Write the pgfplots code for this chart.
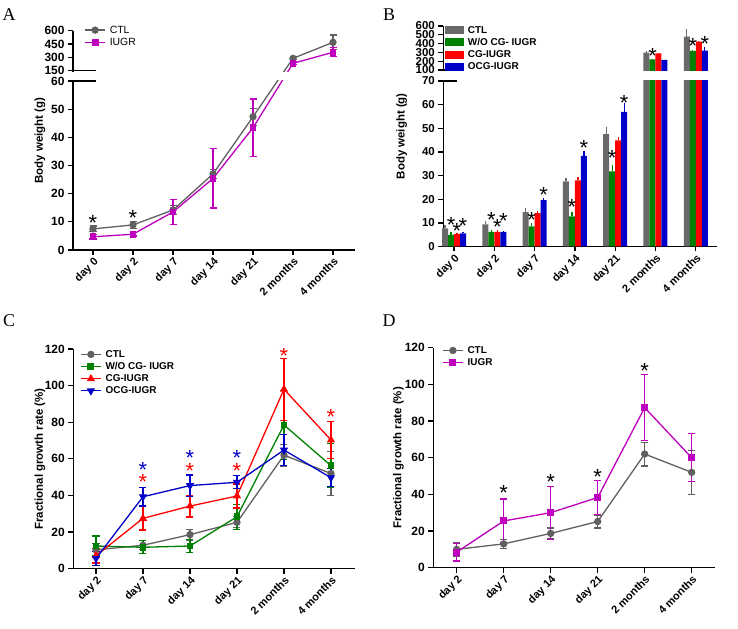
\documentclass[border=0pt]{standalone}
\usepackage{fontspec}
\setmainfont{Liberation Sans}
\newfontfamily\panelfont{Liberation Serif}
\usepackage{pgfplots}
\usepackage{pgfplotstable}
\pgfplotsset{compat=1.18}

\definecolor{ctl}{RGB}{96,96,96}
\definecolor{barg}{RGB}{105,105,105}
\definecolor{iugr}{RGB}{190,0,190}
\definecolor{wog}{RGB}{0,128,0}
\definecolor{cgr}{RGB}{255,0,0}
\definecolor{ocg}{RGB}{0,0,200}

% A: body weight, CTL vs IUGR
\pgfplotstableread{
x ctl ectl iu eiu
0 7.5 1.0 4.7 0.8
1 8.9 1.2 5.6 0.6
2 14.2 1.5 13.5 4.5
3 27.0 1.7 25.4 10.5
4 47.3 3.0 43.4 10.2
5 289 15 233 15
6 469 82 357 50
}\dataA
\pgfplotstableread{
x y
0 11.2
1 13.0
}\starsA

% B: body weight, four groups
\pgfplotstableread{
x ctl ectl wo ewo cg ecg ocg eocg
0 7.7 1.2 4.9 1.1 5.2 0.6 5.6 0.4
1 9.4 1.5 6.2 0.8 6.2 0.7 6.2 0.3
2 14.5 1.7 8.5 1.4 14.1 1.1 19.6 1.0
3 27.5 1.5 12.7 1.7 28.0 1.3 38.3 2.1
4 47.5 3.2 31.8 2.8 44.9 1.3 56.9 3.9
5 297 22 222 6 290 6 214 5
6 478 84 316 10 422 12 319 45
}\dataB
\pgfplotstableread{
x y
-0.074 11.0
0.074 8.5
0.223 10.8
0.926 13.1
1.074 10.1
1.223 12.7
1.926 13.0
2.223 23.5
2.926 18.6
3.223 43.4
3.926 39.2
4.223 62.4
4.926 308
5.926 421
6.223 452
}\starsB

% C: fractional growth rate, four groups
\pgfplotstableread{
x ctl ectl wo ewo cg ecg ocg eocg
0 10.3 3.5 12.4 5.5 7.1 4.0 5.6 4.0
1 12.8 2.5 11.7 3.6 27.5 6.4 39.3 5.0
2 18.6 3.0 12.4 3.5 34.2 6.0 45.4 5.8
3 25.3 3.0 28.4 6.8 39.7 6.6 47.2 3.6
4 62.0 6.0 78.5 19.0 98.0 17.0 64.8 8.5
5 52.0 12.0 56.3 12.0 70.3 10.0 49.7 5.0
}\dataC
\pgfplotstableread{
x y
1 49.7
2 56.1
3 56.1
4 118.6
5 85.2
}\starsCred
\pgfplotstableread{
x y
1 56.6
2 63.0
3 63.0
}\starsCblue

% D: fractional growth rate, CTL vs IUGR
\pgfplotstableread{
x ctl ectl iu eiu
0 10.0 3.7 8.5 4.8
1 13.0 2.5 25.5 12.0
2 18.7 3.0 30.0 14.5
3 25.2 3.5 38.3 9.3
4 62.0 6.5 87.3 18.0
5 52.0 12.0 60.0 13.0
}\dataD
\pgfplotstableread{
x y
1 43.0
2 49.3
3 51.7
4 109.6
}\starsD

\pgfplotsset{
  panel/.style={
    scale only axis, anchor=south west, clip=false,
    axis lines*=left,
    axis line style={line width=1.3bp, black},
    every tick/.style={line width=1.3bp, black},
    major tick length=5bp, tick align=outside,
    /pgf/number format/assume math mode=true,
    tick label style={font=\bfseries\fontsize{11}{13}\selectfont},
    yticklabel style={font=\bfseries\fontsize{12}{13}\selectfont},
    ylabel style={font=\bfseries\fontsize{11.5}{13}\selectfont, anchor=center},
    xticklabel style={rotate=45, anchor=north east, inner sep=1bp},
    legend cell align=left,
    legend image code/.code={\draw[mark repeat=2, mark phase=2, #1]
      plot coordinates {(0bp,0bp) (10bp,0bp) (20bp,0bp)};},
    legend style={draw=none, fill=none, anchor=north west, inner sep=0pt,
      nodes={inner sep=1bp}, row sep=1.6bp,
      /tikz/every odd column/.append style={column sep=3bp},
      font=\bfseries\fontsize{10}{12}\selectfont},
  },
  lin/.style={line width=1.3bp, color=#1, mark options={solid, fill=#1}, mark size=3bp,
    error bars/y dir=both, error bars/y explicit,
    error bars/error bar style={line width=1.2bp, color=#1},
    error bars/error mark options={rotate=90, line width=1.2bp, color=#1, mark size=3.5bp}},
  bar/.style 2 args={ybar, bar width=6bp, bar shift=#2, fill=#1, draw=none,
    error bars/y dir=plus, error bars/y explicit,
    error bars/error bar style={line width=1.2bp, color=#1, xshift=#2},
    error bars/error mark=none},
  star/.style={only marks, mark=none, forget plot, nodes near coords={*},
    every node near coord/.style={font=\fontsize{22}{22}\selectfont, anchor=center,
      yshift=-4.5bp, inner sep=0pt, text=#1}},
  star/.default=black,
}

\begin{document}
\begin{tikzpicture}[
  declare function={
    tA(\v)=(\v<100)*\v+(\v>100)*(63.657+(\v-150)*0.031556);
    eA(\v,\e)=\e*((\v<100)+(\v>100)*0.031556);
    tB(\v)=(\v<80)*\v+(\v>80)*(74.653+(\v-100)*0.03722);
    eB(\v,\e)=\e*((\v<80)+(\v>80)*0.03722);
  }]
\useasboundingbox (0,0) rectangle (738bp,629bp);

% ---------- A ----------
\begin{axis}[panel, at={(73bp,379bp)}, width=282bp, height=219.3bp,
  xmin=-0.5, xmax=6.55, ymin=0, ymax=77.857,
  xtick={0,...,6}, xticklabels={day 0,day 2,day 7,day 14,day 21,2 months,4 months},
  ytick={0,10,...,60,63.657,68.39,73.124,77.857},
  yticklabels={0,10,20,30,40,50,60,150,300,450,600},
  ylabel={Body weight (g)}, ylabel style={at={(axis description cs:-0.117,0.5)}},
  legend style={at={(axis description cs:0.04,1.028)}, font=\fontsize{10.5}{12}\selectfont},
]
\addplot[lin=ctl, mark=*] table[x=x, y expr={tA(\thisrow{ctl})},
  y error expr={eA(\thisrow{ctl},\thisrow{ectl})}] {\dataA};
\addlegendentry{CTL}
\addplot[lin=iugr, mark=square*, mark size=2.8bp] table[x=x, y expr={tA(\thisrow{iu})},
  y error expr={eA(\thisrow{iu},\thisrow{eiu})}] {\dataA};
\addlegendentry{IUGR}
\addplot[star] table[x=x, y=y] {\starsA};
\fill[white] ([xshift=-2.5bp]axis cs:-0.5,60.35) rectangle (axis cs:6.55,63.3);
\draw[line width=1.3bp] (axis cs:-0.5,60) -- ++(3bp,0);
\draw[line width=1.3bp] (axis cs:-0.5,63.657) -- ++(3bp,0);
\end{axis}

% ---------- B ----------
\begin{axis}[panel, at={(443.3bp,382.5bp)}, width=273.4bp, height=220.5bp,
  xmin=-0.2655, xmax=6.519, ymin=0, ymax=93.263,
  xtick={0,...,6}, xticklabels={day 0,day 2,day 7,day 14,day 21,2 months,4 months},
  ytick={0,10,...,70,74.653,78.375,82.097,85.819,89.541,93.263},
  yticklabels={0,10,20,30,40,50,60,70,100,200,300,400,500,600},
  yticklabel style={font=\bfseries\fontsize{11.5}{12}\selectfont},
  ylabel={Body weight (g)}, ylabel style={at={(axis description cs:-0.152,0.5)}},
  legend style={at={(axis description cs:0.005,1.005)}},
  legend image code/.code={\fill[#1] (0bp,-4bp) rectangle (19bp,4bp);},
]
\addplot[bar={barg}{-9bp}] table[x=x, y expr={tB(\thisrow{ctl})},
  y error expr={eB(\thisrow{ctl},\thisrow{ectl})}] {\dataB};
\addlegendentry{CTL}
\addplot[bar={wog}{-3bp}] table[x=x, y expr={tB(\thisrow{wo})},
  y error expr={eB(\thisrow{wo},\thisrow{ewo})}] {\dataB};
\addlegendentry{W/O CG- IUGR}
\addplot[bar={cgr}{3bp}] table[x=x, y expr={tB(\thisrow{cg})},
  y error expr={eB(\thisrow{cg},\thisrow{ecg})}] {\dataB};
\addlegendentry{CG-IUGR}
\addplot[bar={ocg}{9bp}] table[x=x, y expr={tB(\thisrow{ocg})},
  y error expr={eB(\thisrow{ocg},\thisrow{eocg})}] {\dataB};
\addlegendentry{OCG-IUGR}
\addplot[star] table[x=x, y expr={tB(\thisrow{y})}] {\starsB};
\fill[white] ([xshift=-2.5bp]axis cs:-0.2655,70.35) rectangle (axis cs:6.519,74.3);
\draw[line width=1.3bp] (axis cs:-0.2655,70) -- ++(3bp,0);
\draw[line width=1.3bp] (axis cs:-0.2655,74.653) -- ++(3bp,0);
\end{axis}

% ---------- C ----------
\begin{axis}[panel, at={(73.3bp,60.3bp)}, width=281.7bp, height=219.7bp,
  xmin=-0.483, xmax=5.511, ymin=0, ymax=120, ytick={0,20,...,120},
  xtick={0,...,5}, xticklabels={day 2,day 7,day 14,day 21,2 months,4 months},
  ylabel={Fractional growth rate (\%)}, ylabel style={at={(axis description cs:-0.118,0.5)}},
  legend style={at={(axis description cs:0.024,1.0)}},
]
\addplot[lin=ctl, mark=*] table[x=x, y=ctl, y error=ectl] {\dataC};
\addlegendentry{CTL}
\addplot[lin=wog, mark=square*, mark size=2.8bp] table[x=x, y=wo, y error=ewo] {\dataC};
\addlegendentry{W/O CG- IUGR}
\addplot[lin=cgr, mark=triangle*, mark size=3.5bp] table[x=x, y=cg, y error=ecg] {\dataC};
\addlegendentry{CG-IUGR}
\addplot[lin=ocg, mark=triangle*, mark size=3.5bp, mark options={solid, fill=ocg, rotate=180}]
  table[x=x, y=ocg, y error=eocg] {\dataC};
\addlegendentry{OCG-IUGR}
\addplot[star=cgr] table[x=x, y=y] {\starsCred};
\addplot[star=ocg] table[x=x, y=y] {\starsCblue};
\end{axis}

% ---------- D ----------
\begin{axis}[panel, at={(433.3bp,61.3bp)}, width=281.7bp, height=220bp,
  xmin=-0.498, xmax=5.496, ymin=0, ymax=120, ytick={0,20,...,120},
  xtick={0,...,5}, xticklabels={day 2,day 7,day 14,day 21,2 months,4 months},
  ylabel={Fractional growth rate (\%)}, ylabel style={at={(axis description cs:-0.124,0.5)}},
  legend style={at={(axis description cs:0.031,1.012)}},
]
\addplot[lin=ctl, mark=*] table[x=x, y=ctl, y error=ectl] {\dataD};
\addlegendentry{CTL}
\addplot[lin=iugr, mark=square*, mark size=2.8bp] table[x=x, y=iu, y error=eiu] {\dataD};
\addlegendentry{IUGR}
\addplot[star] table[x=x, y=y] {\starsD};
\end{axis}

\node[font=\panelfont\fontsize{18}{18}\selectfont] at (9bp,614bp) {A};
\node[font=\panelfont\fontsize{18}{18}\selectfont] at (389bp,614bp) {B};
\node[font=\panelfont\fontsize{18}{18}\selectfont] at (9bp,308bp) {C};
\node[font=\panelfont\fontsize{18}{18}\selectfont] at (389bp,308bp) {D};
\end{tikzpicture}
\end{document}
